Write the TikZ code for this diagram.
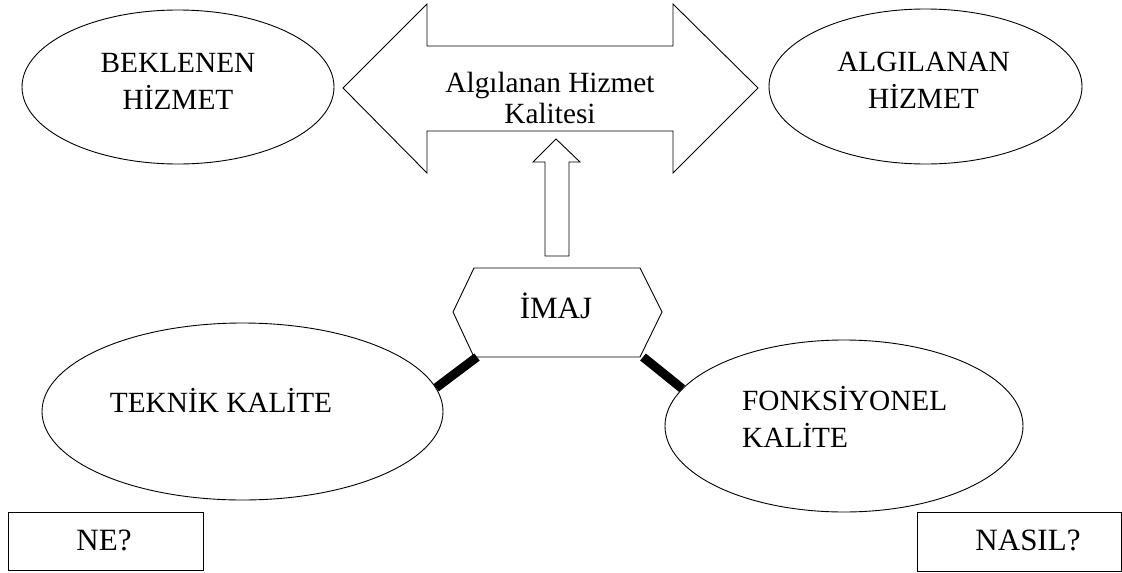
\documentclass[tikz,border=0pt]{standalone}
\usepackage{fontspec}
\setmainfont{Liberation Serif}
\usetikzlibrary{shapes.geometric}
\begin{document}
\begin{tikzpicture}[x=1pt,y=-1pt,
  thin line/.style={draw=black, line width=0.9pt},
  oval/.style={ellipse, thin line, fill=white, inner sep=0pt},
  lbl/.style={inner sep=0pt, font=\fontsize{29.3}{37}\selectfont},
  biglbl/.style={inner sep=0pt, font=\fontsize{31}{37}\selectfont},
  qbox/.style={rectangle, thin line, fill=white, inner sep=0pt},
  bar/.style={line width=9pt, black}]
\useasboundingbox (0,0) rectangle (1122,573);
\fill[white] (0,0) rectangle (1122,573);

% ellipses
\node[oval, minimum width=312pt, minimum height=154pt] (bek) at (178,87) {};
\node[oval, minimum width=313pt, minimum height=155pt] (alg) at (925.5,86.5) {};
\node[oval, minimum width=401pt, minimum height=177pt] (tek) at (242.5,411.5) {};
\node[oval, minimum width=358pt, minimum height=172pt] (fonk) at (844,426) {};

\node[lbl, align=center] (bektxt) at (178,81) {BEKLENEN\\HİZMET};
\node[lbl, align=center] (algtxt) at (923.5,80.5) {ALGILANAN\\HİZMET};
\node[lbl, anchor=base] (tektxt) at (221,412) {TEKNİK KALİTE};
\node[lbl, align=left, anchor=west] (fonktxt) at (742,417) {FONKSİYONEL\\KALİTE};

% double arrow
\draw[thin line, fill=white] (343,88) -- (427,4) -- (427,46) -- (673,46) -- (673,4)
  -- (758,88) -- (673,173) -- (673,131) -- (427,131) -- (427,173) -- cycle;
\node[lbl, align=center, font=\fontsize{29.3}{31}\selectfont] (ahk) at (550,97.5) {Algılanan Hizmet\\Kalitesi};

% up arrow
\draw[thin line, fill=white] (556,139) -- (580,162) -- (569,162) -- (569,256)
  -- (545,256) -- (545,162) -- (533,162) -- cycle;

% hexagon
\coordinate (hl) at (453,312);
\coordinate (htl) at (474,268);
\coordinate (htr) at (640,268);
\coordinate (hr) at (662,312);
\coordinate (hbr) at (640,357);
\coordinate (hbl) at (474,357);
\draw[thin line, fill=white] (hl) -- (htl) -- (htr) -- (hr) -- (hbr) -- (hbl) -- cycle;
\node[biglbl, anchor=base] (imaj) at (556,318) {İMAJ};

% thick connectors
\draw[bar] ([xshift=3pt]hbl) -- (tek.7);
\draw[bar] ([xshift=3pt]hbr) -- (fonk.167.5);

% boxes
\node[qbox, minimum width=195pt, minimum height=58pt] (ne) at (105.5,541) {};
\node[biglbl, anchor=base] (netxt) at (104,550) {NE?};
\node[qbox, minimum width=204pt, minimum height=59pt] (nasil) at (1019,541.5) {};
\node[biglbl, anchor=base] (nasiltxt) at (1028,550) {NASIL?};
\end{tikzpicture}
\end{document}
